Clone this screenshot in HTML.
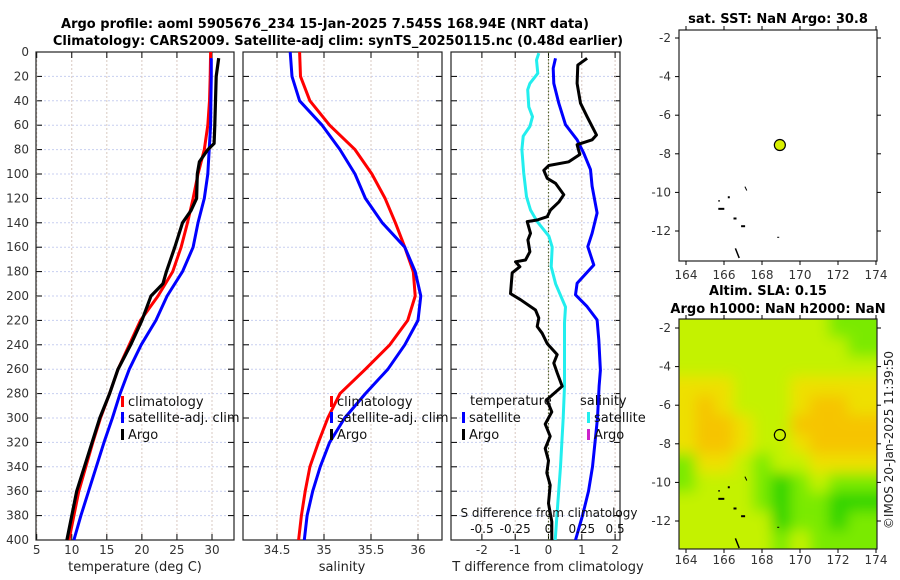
<!DOCTYPE html>
<html><head><meta charset="utf-8"><style>
body{margin:0;background:#fff;}
svg{display:block;font-family:"DejaVu Sans","Liberation Sans",sans-serif;}
</style></head><body>
<svg id="fig" width="900" height="580" viewBox="0 0 900 580" xmlns="http://www.w3.org/2000/svg">
<text x="325" y="28" text-anchor="middle" font-weight="bold" font-size="13">Argo profile: aoml 5905676_234 15-Jan-2025 7.545S 168.94E (NRT data)</text>
<text x="338" y="45" text-anchor="middle" font-weight="bold" font-size="13">Climatology: CARS2009. Satellite-adj clim: synTS_20250115.nc (0.48d earlier)</text>
<text x="778" y="23" text-anchor="middle" font-weight="bold" font-size="13">sat. SST: NaN Argo: 30.8</text>
<text x="768" y="295" text-anchor="middle" font-weight="bold" font-size="13">Altim. SLA: 0.15</text>
<text x="778" y="313" text-anchor="middle" font-weight="bold" font-size="13">Argo h1000: NaN h2000: NaN</text>
<text transform="translate(893,440) rotate(-90)" text-anchor="middle" font-size="12" fill="#222">©IMOS 20-Jan-2025 11:39:50</text>
<g id="g"></g>
</svg>
<script>
const climDepths=[0,20,40,60,80,100,120,140,160,180,200,220,240,260,280,300,320,340,360,380,400];
const climTemp=[29.8,29.75,29.65,29.4,28.9,28.0,27.3,26.5,25.6,24.4,22.3,19.8,18.2,16.6,15.4,14.1,13.0,12.0,11.0,10.3,9.6];
const satDepths=[5,20,40,60,80,100,120,140,160,180,200,220,240,260,280,300,320,340,360,380,400];
const satTemp=[29.9,29.9,29.85,29.8,29.6,29.4,28.9,28.0,27.3,25.8,23.6,22.0,19.9,18.2,16.9,15.8,14.6,13.5,12.4,11.3,10.3];
const argoDepths=[5,20,40,60,75,80,90,100,120,130,140,160,180,190,200,220,240,260,280,300,320,340,360,380,400];
const argoTemp=[30.95,30.6,30.5,30.4,30.3,29.4,28.2,27.9,27.8,27.0,25.8,24.7,23.5,23.0,21.3,20.0,18.4,16.6,15.4,14.0,12.9,11.8,10.7,10.0,9.3];
const climSal=[34.74,34.75,34.85,35.06,35.33,35.51,35.65,35.76,35.86,35.95,35.97,35.89,35.70,35.44,35.17,35.04,34.94,34.85,34.80,34.76,34.73];
const satSal=[34.64,34.66,34.74,34.98,35.17,35.33,35.44,35.62,35.86,35.97,36.03,36.00,35.86,35.68,35.44,35.22,35.06,34.96,34.88,34.82,34.79];
const argoTdiffDepths=[5.2,10.7,25.7,42,53,68,72,76,84,90,93,97,103.5,107.6,117,123,129.5,135,137.7,139,148.6,154,163.7,170.5,172,176,181,198,203,211.5,218,225,230.6,239,248,255,263,274,285,295,305,315,325,335,345,355,370,385,400];
const argoTdiff=[1.16,0.88,0.86,0.96,1.16,1.44,1.31,0.86,0.94,0.61,0.01,-0.14,-0.04,0.21,0.46,0.31,0.06,-0.04,-0.34,-0.64,-0.54,-0.62,-0.56,-0.69,-0.99,-0.86,-1.09,-1.14,-0.84,-0.39,-0.29,-0.34,-0.19,-0.04,0.26,0.16,0.26,0.41,-0.05,0.1,-0.1,0.05,-0.1,0,-0.05,0.05,0,0.1,0.1];
const satTdiffDepths=[5.2,13.4,25.7,42,59.6,72,83,96.4,110,132,148.6,159.5,174.6,189.6,199,208.7,219.6,236,260.7,274,300,340,360,380,400];
const satTdiff=[0.21,0.14,0.16,0.31,0.51,0.86,1.06,1.26,1.31,1.46,1.31,1.18,1.36,0.86,0.81,1.16,1.46,1.51,1.56,1.52,1.47,1.32,1.2,1.02,0.81];
const satSdiffDepths=[1,6.6,17.5,25.7,31,45,53,61,69,80,99,118.6,129.5,139,151,160,176,190,209,222,274,300,340,370,400];
const satSdiff=[-0.073,-0.09,-0.08,-0.14,-0.156,-0.148,-0.12,-0.14,-0.19,-0.2,-0.186,-0.165,-0.135,-0.085,0.003,0.028,0.02,0.053,0.128,0.12,0.12,0.11,0.09,0.07,0.05];
const depthTicks=[0,20,40,60,80,100,120,140,160,180,200,220,240,260,280,300,320,340,360,380,400];
const tempTicks=[5,10,15,20,25,30];
const salTicks=[34.5,35,35.5,36];
const tdTicks=[-2,-1,0,1,2];
const sdTicks=[-0.5,-0.25,0,0.25,0.5];
const sdTickLabels=['-0.5','-0.25','0','0.25','0.5'];
const lonTicks=[164,166,168,170,172,174];
const latTicks=[-2,-4,-6,-8,-10,-12];
const floatLon=[168.94];
const floatLat=[-7.545];
const slaLevels=[
[2,2,2,2,2,2,2,2,1,1],
[2,2,2,2,2,2,2,2,2,1],
[2,2,2,2,2,2,2,2,2,2],
[3,3,3,2,2,2,3,3,3,3],
[3,4,3,2,2,2,3,4,4,3],
[3,4,4,3,2,2,4,4,4,4],
[3,4,4,3,2,2,3,4,4,4],
[1,3,3,2,1,2,2,3,3,3],
[1,2,2,2,1,0,1,2,1,1],
[2,2,2,2,1,0,1,1,0,0],
[2,2,2,2,2,0,1,1,0,1],
[2,2,2,2,2,1,2,1,1,1]];
const slaColors=['#2ed400','#7aea00','#c4f200','#eee000','#f6c400'];

const NS='http://www.w3.org/2000/svg';
const G=document.getElementById('g');
function el(t,a,p){const e=document.createElementNS(NS,t);for(const k in a)e.setAttribute(k,a[k]);(p||G).appendChild(e);return e;}
const Y0=52,Y1=540;
const yD=d=>Y0+(d/400)*(Y1-Y0);
function lin(d0,d1,r0,r1){return v=>r0+(v-d0)/(d1-d0)*(r1-r0);}
const xT=lin(5,30,36.7,212);
const xS=lin(34.5,36,277,418);
const xTd=lin(0,1,548.5,581.8);
const xSd=lin(0,0.25,548.5,581.8);
const panels=[{x0:36,x1:234,xs:xT,ticks:tempTicks,name:'temperature'},{x0:243,x1:442,xs:xS,ticks:salTicks,name:'salinity'},{x0:451,x1:620,xs:xTd,ticks:tdTicks,name:'difference'}];
panels.forEach((p,i)=>{
  const g=el('g',{});
  
  
  depthTicks.forEach(d=>{const l=el('line',{x1:p.x0,x2:p.x1,y1:yD(d),y2:yD(d),stroke:'#c8cff0','stroke-width':1,'stroke-dasharray':'2,2'},g);
    
    el('line',{x1:p.x0,x2:p.x0+6,y1:yD(d),y2:yD(d),stroke:'#000'},g);
    el('line',{x1:p.x1-6,x2:p.x1,y1:yD(d),y2:yD(d),stroke:'#000'},g);});
  p.ticks.forEach(t=>{const x=p.xs(t);const l=el('line',{x1:x,x2:x,y1:Y0,y2:Y1,stroke:'#d8c8c0','stroke-width':1,'stroke-dasharray':'2,2'},g);
    
    el('line',{x1:x,x2:x,y1:Y1,y2:Y1-6,stroke:'#000'},g);el('line',{x1:x,x2:x,y1:Y0,y2:Y0+6,stroke:'#000'},g);
    const tx=el('text',{x:x,y:554,'text-anchor':'middle','font-size':12,fill:'#333'},g);tx.textContent=String(t);
    });
  const r=el('rect',{x:p.x0,y:Y0,width:p.x1-p.x0,height:Y1-Y0,fill:'none',stroke:'#222','stroke-width':1.2},g);
  
});
depthTicks.forEach(d=>{const t=el('text',{x:29,y:yD(d)+4,'text-anchor':'end','font-size':12,fill:'#333'});t.textContent=d;
  });
const z=el('line',{x1:xTd(0),x2:xTd(0),y1:Y0,y2:Y1,stroke:'#556633','stroke-width':1.2,'stroke-dasharray':'1.5,2'});

function line(xs,ds,xf,color,w,name){const pts=xs.map((v,i)=>xf(v).toFixed(1)+','+yD(ds[i]).toFixed(1)).join(' ');
  const l=el('polyline',{points:pts,fill:'none',stroke:color,'stroke-width':w,'stroke-linejoin':'round'});
  return l;}
const defs=el('defs',{});
const cp=el('clipPath',{id:'c3'},defs);el('rect',{x:451,y:52,width:169,height:488},cp);
line(climTemp,climDepths,xT,'#ff0000',3,'temp-climatology-line');
line(satTemp,satDepths,xT,'#0000ff',3,'temp-satellite-line');
line(argoTemp,argoDepths,xT,'#000',3.2,'temp-argo-line');
line(climSal,climDepths,xS,'#ff0000',3,'sal-climatology-line');
line(satSal,climDepths,xS,'#0000ff',3,'sal-satellite-line');
line(satSdiff,satSdiffDepths,xSd,'#22eeee',3,'sdiff-satellite-line').setAttribute('clip-path','url(#c3)');
line(satTdiff,satTdiffDepths,xTd,'#0000ff',3,'tdiff-satellite-line').setAttribute('clip-path','url(#c3)');
line(argoTdiff,argoTdiffDepths,xTd,'#000',3,'tdiff-argo-line').setAttribute('clip-path','url(#c3)');
const sdt=el('text',{x:549,y:517,'text-anchor':'middle','font-size':12,fill:'#111'});sdt.textContent='S difference from climatology';

sdTicks.forEach((t,i)=>{const tx=el('text',{x:xSd(t),y:533,'text-anchor':'middle','font-size':12,fill:'#111'});tx.textContent=sdTickLabels[i];
  });
[[135,'temperature (deg C)','x-axis-title-temp'],[342,'salinity','x-axis-title-sal'],[548,'T difference from climatology','x-axis-title-tdiff']].forEach(a=>{
  const t=el('text',{x:a[0],y:571,'text-anchor':'middle','font-size':13,fill:'#222'});t.textContent=a[1];
  });
function leg(x,y,color,label,name){const g=el('g',{});
  el('rect',{x:x,y:y-9,width:3,height:11,fill:color},g);const t=el('text',{x:x+7,y:y+1,'font-size':13,fill:'#111'},g);t.textContent=label;}
leg(121,405,'#ff0000','climatology','legend-climatology');
leg(121,421,'#0000ff','satellite-adj. clim','legend-satellite');
leg(121,438,'#000','Argo','legend-argo');
leg(330,405,'#ff0000','climatology','legend-sal-climatology');
leg(330,421,'#0000ff','satellite-adj. clim','legend-sal-satellite');
leg(330,438,'#000','Argo','legend-sal-argo');
const lt=el('text',{x:470,y:405,'font-size':13,fill:'#111'});lt.textContent='temperature';
const ls=el('text',{x:580,y:405,'font-size':13,fill:'#111'});ls.textContent='salinity';
leg(462,421,'#0000ff','satellite','legend-tdiff-satellite');
leg(462,438,'#000','Argo','legend-tdiff-argo');
leg(587,421,'#22eeee','satellite','legend-sdiff-satellite');
leg(587,438,'#cc22cc','Argo','legend-sdiff-argo');
function map(top,bot,yOfLatTop,name,heat){
  const x0=679,x1=877;
  const xL=lin(164,174,686,876);
  const yL=lin(-2,-12,yOfLatTop,yOfLatTop+193);
  const g=el('g',{});
  if(heat){
    const c=el('clipPath',{id:'cm'},defs);el('rect',{x:x0,y:top,width:x1-x0,height:bot-top},c);
    const hg=el('g',{'clip-path':'url(#cm)'},g);
    const inner=el('g',{filter:'url(#bl)'},hg);
    const f=el('filter',{id:'bl',x:'-10%',y:'-10%',width:'120%',height:'120%'},defs);el('feGaussianBlur',{stdDeviation:7},f);
    el('rect',{x:x0-20,y:top-20,width:x1-x0+40,height:bot-top+40,fill:slaColors[2]},inner);
    slaLevels.forEach((row,ri)=>row.forEach((lv,ci)=>{
      const lat=-2-ri, lon=164+ci;
      const x=xL(lon-0.5),y=yL(lat+0.5);
      const w=xL(lon+0.5)-x+ (ci==9?30:0), h=yL(lat-0.5)-y+(ri==11?30:0);
      const r=el('rect',{x:ci==0?x-20:x,y:ri==0?y-20:y,width:w+(ci==0?20:0),height:h+(ri==0?20:0),fill:slaColors[lv]},inner);
      
    }));
  }
  [[165.7,-10.8,6,2],[166.5,-11.3,3,2],[166.9,-11.7,4,2],[166.2,-10.2,2,2],[165.7,-10.4,1.5,1.5],[168.8,-12.3,2,1]].forEach(c=>el('rect',{x:xL(c[0]),y:yL(c[1]),width:c[2],height:c[3],fill:'#000'},g));
  el('line',{x1:xL(166.6),y1:yL(-12.9),x2:xL(166.8),y2:yL(-13.4),stroke:'#000','stroke-width':1.5},g);
  el('line',{x1:xL(167.1),y1:yL(-9.7),x2:xL(167.2),y2:yL(-9.9),stroke:'#000','stroke-width':1},g);
  el('rect',{x:x0,y:top,width:x1-x0,height:bot-top,fill:'none',stroke:'#222','stroke-width':1.2},g);
  lonTicks.forEach(t=>{const x=xL(t);el('line',{x1:x,x2:x,y1:bot,y2:bot+4,stroke:'#000'},g);el('line',{x1:x,x2:x,y1:top,y2:top-4,stroke:'#000'},g);
    const tx=el('text',{x:x,y:bot+(heat?15:18),'text-anchor':'middle','font-size':12,fill:'#333'},g);tx.textContent=t;
    });
  latTicks.forEach(t=>{const y=yL(t);el('line',{x1:x0-4,x2:x0,y1:y,y2:y,stroke:'#000'},g);el('line',{x1:x1,x2:x1+4,y1:y,y2:y,stroke:'#000'},g);
    const tx=el('text',{x:x0-8,y:y+4,'text-anchor':'end','font-size':12,fill:'#333'},g);tx.textContent=t;
    });
  const m=el('circle',{cx:xL(floatLon[0]),cy:yL(floatLat[0]),r:5.5,fill:heat?'none':'#d8f000',stroke:'#000','stroke-width':1.2},g);
  
}
map(30,261,38,'sst-map',false);
map(319,549,328,'sla-map',true);
</script>
</body></html>
